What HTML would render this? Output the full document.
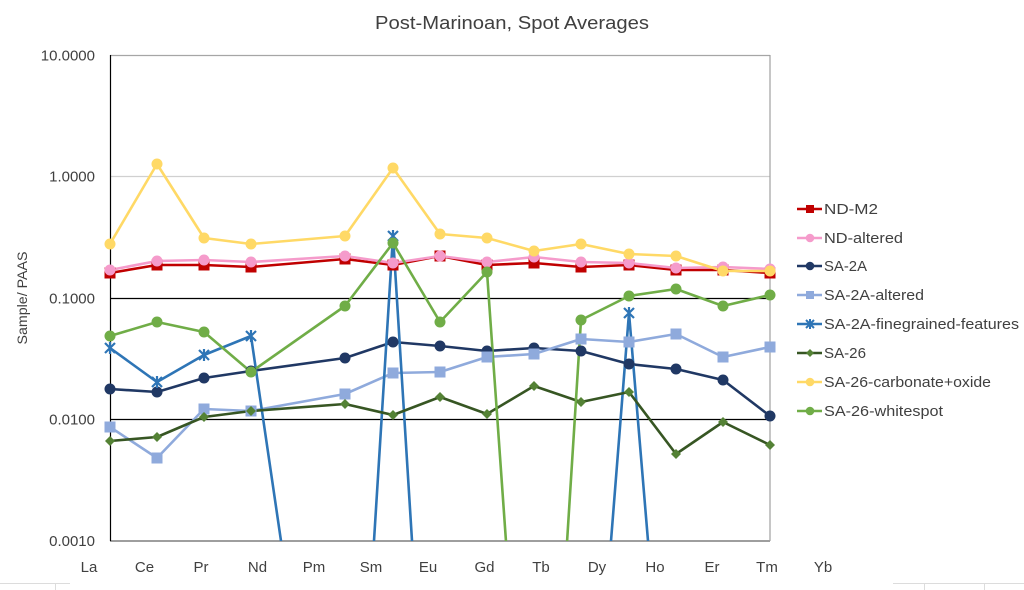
<!DOCTYPE html>
<html><head><meta charset="utf-8"><style>
html,body{margin:0;padding:0;background:#fff;}
svg{display:block;}
text{font-family:"Liberation Sans",sans-serif;fill:#404040;}
</style></head><body>
<svg width="1024" height="590" viewBox="0 0 1024 590" xmlns="http://www.w3.org/2000/svg">
<defs>
<clipPath id="pc"><rect x="0" y="0" width="1024" height="541"/></clipPath>
</defs>
<rect width="1024" height="590" fill="#fff"/>
<!-- title -->
<text x="512" y="29" font-size="18" text-anchor="middle" textLength="274" lengthAdjust="spacingAndGlyphs" fill="#262626">Post-Marinoan, Spot Averages</text>
<!-- gridlines -->
<line x1="110" y1="55.5" x2="770" y2="55.5" stroke="#a6a6a6" stroke-width="1.3"/>
<line x1="110" y1="176.5" x2="770" y2="176.5" stroke="#d0d0d0" stroke-width="1.3"/>
<line x1="110" y1="298.5" x2="770" y2="298.5" stroke="#000" stroke-width="1.2"/>
<line x1="110" y1="419.5" x2="770" y2="419.5" stroke="#000" stroke-width="1.2"/>
<line x1="110" y1="541" x2="770" y2="541" stroke="#7f7f7f" stroke-width="1.4"/>
<line x1="110.5" y1="55" x2="110.5" y2="541" stroke="#000" stroke-width="1.2"/>
<line x1="770" y1="55" x2="770" y2="541" stroke="#a0a0a0" stroke-width="1.2"/>
<!-- y labels -->
<g font-size="15" text-anchor="end">
<text x="95" y="60.5">10.0000</text>
<text x="95" y="181.5">1.0000</text>
<text x="95" y="303.5">0.1000</text>
<text x="95" y="424.5">0.0100</text>
<text x="95" y="546">0.0010</text>
</g>
<text transform="translate(27,298) rotate(-90)" font-size="14" text-anchor="middle" textLength="93" lengthAdjust="spacingAndGlyphs">Sample/ PAAS</text>
<!-- x labels -->
<g font-size="15" text-anchor="middle">
<text x="89" y="572">La</text><text x="144.5" y="572">Ce</text><text x="201" y="572">Pr</text><text x="257.5" y="572">Nd</text><text x="314" y="572">Pm</text><text x="371" y="572">Sm</text><text x="428" y="572">Eu</text><text x="484.5" y="572">Gd</text><text x="541" y="572">Tb</text><text x="597" y="572">Dy</text><text x="655" y="572">Ho</text><text x="712" y="572">Er</text><text x="767" y="572">Tm</text><text x="823" y="572">Yb</text>
</g>
<!-- faint bottom lines -->
<g stroke="#dcdcdc" stroke-width="1">
<line x1="0" y1="583.5" x2="70" y2="583.5"/><line x1="55.5" y1="583" x2="55.5" y2="590"/>
<line x1="893" y1="583.5" x2="1024" y2="583.5"/><line x1="924.5" y1="583" x2="924.5" y2="590"/><line x1="984.5" y1="583" x2="984.5" y2="590"/>
</g>

<g clip-path="url(#pc)" fill="none" stroke-width="2.6" stroke-linejoin="round">
<!-- ND-M2 -->
<polyline stroke="#C00000" points="110,273 157,265 204,265 251,267 345,259 393,265 440,256 487,265 534,263 581,267 629,265 676,270 723,270 770,273"/>
<!-- ND-altered -->
<polyline stroke="#F59BCB" points="110,270 157,261 204,260 251,262 345,256 393,263 440,256 487,262 534,257 581,262 629,263 676,268 723,267 770,269"/>
<!-- SA-2A -->
<polyline stroke="#203864" points="110,389 157,392 204,378 251,371 345,358 393,342 440,346 487,351 534,348 581,351 629,364 676,369 723,380 770,416"/>
<!-- SA-2A-altered -->
<polyline stroke="#8FAADC" points="110,427 157,458 204,409 251,411 345,394 393,373 440,372 487,357 534,354 581,339 629,342 676,334 723,357 770,347"/>
<!-- finegrained -->
<polyline stroke="#2E75B6" points="110,348 157,382 204,355 251,336 283.8,560"/>
<polyline stroke="#2E75B6" points="372.8,560 393,236 413.2,560"/>
<polyline stroke="#2E75B6" points="609.5,560 629,313 649.6,560"/>
<!-- SA-26 -->
<polyline stroke="#375623" points="110,441 157,437 204,417 251,411 345,404 393,415 440,397 487,414 534,386 581,402 629,392 676,454 723,422 770,445"/>
<!-- carbonate -->
<polyline stroke="#FFD966" points="110,244 157,164 204,238 251,244 345,236 393,168 440,234 487,238 534,251 581,244 629,254 676,256 723,271 770,271"/>
<!-- whitespot -->
<polyline stroke="#70AD47" points="110,336 157,322 204,332 251,372 345,306 393,243 440,322 487,272 507.3,560"/>
<polyline stroke="#70AD47" points="565.9,560 581,320 629,296 676,289 723,306 770,295"/>
</g>

<!-- markers -->
<g fill="#C00000">
<rect x="104.5" y="267.5" width="11" height="11"/><rect x="151.5" y="259.5" width="11" height="11"/><rect x="198.5" y="259.5" width="11" height="11"/><rect x="245.5" y="261.5" width="11" height="11"/><rect x="339.5" y="253.5" width="11" height="11"/><rect x="387.5" y="259.5" width="11" height="11"/><rect x="434.5" y="250.5" width="11" height="11"/><rect x="481.5" y="259.5" width="11" height="11"/><rect x="528.5" y="257.5" width="11" height="11"/><rect x="575.5" y="261.5" width="11" height="11"/><rect x="623.5" y="259.5" width="11" height="11"/><rect x="670.5" y="264.5" width="11" height="11"/><rect x="717.5" y="264.5" width="11" height="11"/><rect x="764.5" y="267.5" width="11" height="11"/>
</g>
<g fill="#F59BCB">
<circle cx="110" cy="270" r="5.5"/><circle cx="157" cy="261" r="5.5"/><circle cx="204" cy="260" r="5.5"/><circle cx="251" cy="262" r="5.5"/><circle cx="345" cy="256" r="5.5"/><circle cx="393" cy="263" r="5.5"/><circle cx="440" cy="256" r="5.5"/><circle cx="487" cy="262" r="5.5"/><circle cx="534" cy="257" r="5.5"/><circle cx="581" cy="262" r="5.5"/><circle cx="629" cy="263" r="5.5"/><circle cx="676" cy="268" r="5.5"/><circle cx="723" cy="267" r="5.5"/><circle cx="770" cy="269" r="5.5"/>
</g>
<g fill="#203864">
<circle cx="110" cy="389" r="5.5"/><circle cx="157" cy="392" r="5.5"/><circle cx="204" cy="378" r="5.5"/><circle cx="251" cy="371" r="5.5"/><circle cx="345" cy="358" r="5.5"/><circle cx="393" cy="342" r="5.5"/><circle cx="440" cy="346" r="5.5"/><circle cx="487" cy="351" r="5.5"/><circle cx="534" cy="348" r="5.5"/><circle cx="581" cy="351" r="5.5"/><circle cx="629" cy="364" r="5.5"/><circle cx="676" cy="369" r="5.5"/><circle cx="723" cy="380" r="5.5"/><circle cx="770" cy="416" r="5.5"/>
</g>
<g fill="#8FAADC">
<rect x="104.5" y="421.5" width="11" height="11"/><rect x="151.5" y="452.5" width="11" height="11"/><rect x="198.5" y="403.5" width="11" height="11"/><rect x="245.5" y="405.5" width="11" height="11"/><rect x="339.5" y="388.5" width="11" height="11"/><rect x="387.5" y="367.5" width="11" height="11"/><rect x="434.5" y="366.5" width="11" height="11"/><rect x="481.5" y="351.5" width="11" height="11"/><rect x="528.5" y="348.5" width="11" height="11"/><rect x="575.5" y="333.5" width="11" height="11"/><rect x="623.5" y="336.5" width="11" height="11"/><rect x="670.5" y="328.5" width="11" height="11"/><rect x="717.5" y="351.5" width="11" height="11"/><rect x="764.5" y="341.5" width="11" height="11"/>
</g>
<g stroke="#2E75B6" stroke-width="2.2" fill="none">
<path d="M105,343 l10,10 M115,343 l-10,10 M110,342 v12"/>
<path d="M152,377 l10,10 M162,377 l-10,10 M157,376 v12"/>
<path d="M199,350 l10,10 M209,350 l-10,10 M204,349 v12"/>
<path d="M246,331 l10,10 M256,331 l-10,10 M251,330 v12"/>
<path d="M388,231 l10,10 M398,231 l-10,10 M393,230 v12"/>
<path d="M624,308 l10,10 M634,308 l-10,10 M629,307 v12"/>
</g>
<g fill="#548235">
<path d="M110,436 l5,5 l-5,5 l-5,-5z"/><path d="M157,432 l5,5 l-5,5 l-5,-5z"/><path d="M204,412 l5,5 l-5,5 l-5,-5z"/><path d="M251,406 l5,5 l-5,5 l-5,-5z"/><path d="M345,399 l5,5 l-5,5 l-5,-5z"/><path d="M393,410 l5,5 l-5,5 l-5,-5z"/><path d="M440,392 l5,5 l-5,5 l-5,-5z"/><path d="M487,409 l5,5 l-5,5 l-5,-5z"/><path d="M534,381 l5,5 l-5,5 l-5,-5z"/><path d="M581,397 l5,5 l-5,5 l-5,-5z"/><path d="M629,387 l5,5 l-5,5 l-5,-5z"/><path d="M676,449 l5,5 l-5,5 l-5,-5z"/><path d="M723,417 l5,5 l-5,5 l-5,-5z"/><path d="M770,440 l5,5 l-5,5 l-5,-5z"/>
</g>
<g fill="#FFD966">
<circle cx="110" cy="244" r="5.5"/><circle cx="157" cy="164" r="5.5"/><circle cx="204" cy="238" r="5.5"/><circle cx="251" cy="244" r="5.5"/><circle cx="345" cy="236" r="5.5"/><circle cx="393" cy="168" r="5.5"/><circle cx="440" cy="234" r="5.5"/><circle cx="487" cy="238" r="5.5"/><circle cx="534" cy="251" r="5.5"/><circle cx="581" cy="244" r="5.5"/><circle cx="629" cy="254" r="5.5"/><circle cx="676" cy="256" r="5.5"/><circle cx="723" cy="271" r="5.5"/><circle cx="770" cy="271" r="5.5"/>
</g>
<g fill="#70AD47">
<circle cx="110" cy="336" r="5.5"/><circle cx="157" cy="322" r="5.5"/><circle cx="204" cy="332" r="5.5"/><circle cx="251" cy="372" r="5.5"/><circle cx="345" cy="306" r="5.5"/><circle cx="393" cy="243" r="5.5"/><circle cx="440" cy="322" r="5.5"/><circle cx="487" cy="272" r="5.5"/><circle cx="581" cy="320" r="5.5"/><circle cx="629" cy="296" r="5.5"/><circle cx="676" cy="289" r="5.5"/><circle cx="723" cy="306" r="5.5"/><circle cx="770" cy="295" r="5.5"/>
</g>

<!-- legend -->
<g stroke-width="2.6">
<line x1="797" y1="209" x2="822" y2="209" stroke="#C00000"/>
<line x1="797" y1="238" x2="822" y2="238" stroke="#F59BCB"/>
<line x1="797" y1="266" x2="822" y2="266" stroke="#203864"/>
<line x1="797" y1="295" x2="822" y2="295" stroke="#8FAADC"/>
<line x1="797" y1="324" x2="822" y2="324" stroke="#2E75B6"/>
<line x1="797" y1="353" x2="822" y2="353" stroke="#375623"/>
<line x1="797" y1="382" x2="822" y2="382" stroke="#FFD966"/>
<line x1="797" y1="411" x2="822" y2="411" stroke="#70AD47"/>
</g>
<rect x="806" y="205" width="8" height="8" fill="#C00000"/>
<circle cx="810" cy="238" r="4.3" fill="#F59BCB"/>
<circle cx="810" cy="266" r="4.3" fill="#203864"/>
<rect x="806" y="291" width="8" height="8" fill="#8FAADC"/>
<path d="M806,320 l8,8 M814,320 l-8,8 M810,319 v10" stroke="#2E75B6" stroke-width="2" fill="none"/>
<path d="M810,349 l4,4 l-4,4 l-4,-4z" fill="#548235"/>
<circle cx="810" cy="382" r="4.3" fill="#FFD966"/>
<circle cx="810" cy="411" r="4.3" fill="#70AD47"/>
<g font-size="15">
<text x="824" y="214" textLength="54" lengthAdjust="spacingAndGlyphs">ND-M2</text>
<text x="824" y="243" textLength="79" lengthAdjust="spacingAndGlyphs">ND-altered</text>
<text x="824" y="271" textLength="43" lengthAdjust="spacingAndGlyphs">SA-2A</text>
<text x="824" y="300" textLength="100" lengthAdjust="spacingAndGlyphs">SA-2A-altered</text>
<text x="824" y="329" textLength="195" lengthAdjust="spacingAndGlyphs">SA-2A-finegrained-features</text>
<text x="824" y="358" textLength="42" lengthAdjust="spacingAndGlyphs">SA-26</text>
<text x="824" y="387" textLength="167" lengthAdjust="spacingAndGlyphs">SA-26-carbonate+oxide</text>
<text x="824" y="416" textLength="119" lengthAdjust="spacingAndGlyphs">SA-26-whitespot</text>
</g>
</svg>
</body></html>
